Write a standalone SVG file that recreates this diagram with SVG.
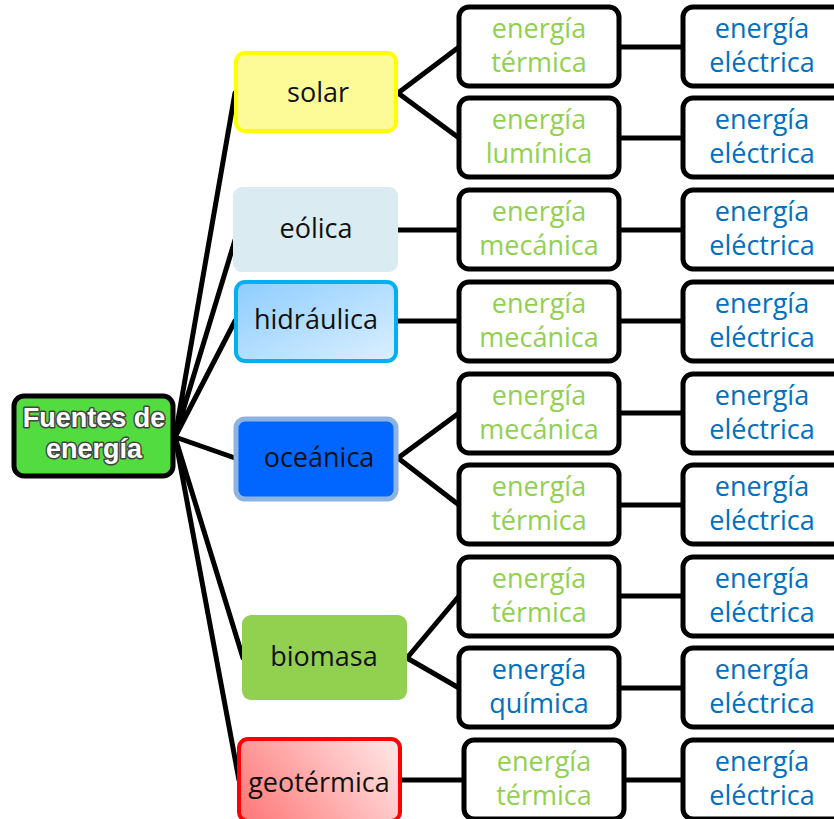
<svg xmlns="http://www.w3.org/2000/svg" width="834" height="819" viewBox="0 0 834 819">
<defs>
<linearGradient id="gHid" x1="0" y1="0" x2="1" y2="1"><stop offset="0" stop-color="#8ccdff"/><stop offset="1" stop-color="#dcefff"/></linearGradient>
<linearGradient id="gGeo" x1="0" y1="0.7" x2="1" y2="0.3"><stop offset="0" stop-color="#ff7f7f"/><stop offset="1" stop-color="#ffe0e0"/></linearGradient>
<style>
.ln{stroke:#000;stroke-width:5;fill:none;stroke-linecap:round}
.box{fill:#fff;stroke:#000;stroke-width:5}
.t{font-family:"Open Sans","Liberation Sans",sans-serif;font-size:27px;text-anchor:middle}
.g{fill:#92d050}
.b{fill:#0070c0}
.k{fill:#111}
.root{font-family:"Liberation Sans",Arial,sans-serif;font-size:27px;font-weight:bold;text-anchor:middle;fill:#fff;stroke:#444;stroke-width:3;paint-order:stroke;stroke-linejoin:round}
</style>
</defs>
<g id="connectors">
<path class="ln" d="M175 437 L235 93 M175 437 L235 240 M175 437 L235 321 M175 437 L235 458 M175 437 L243 658 M175 437 L239 780"/>
<path class="ln" d="M398 93 L459 47 M398 93 L459 138"/>
<path class="ln" d="M398 230 L459 230 M398 321 L459 321"/>
<path class="ln" d="M398 458 L459 413 M398 458 L459 505"/>
<path class="ln" d="M407 658 L459 596 M407 658 L459 688"/>
<path class="ln" d="M401 780 L464 780"/>
<path class="ln" d="M620 47 H683 M620 138 H683 M620 230 H683 M620 321 H683 M620 413 H683 M620 505 H683 M620 596 H683 M620 688 H683 M625 780 H683"/>
</g>
<g id="root">
<rect x="14" y="396" width="159" height="80" rx="10" fill="#52dc40" stroke="#000" stroke-width="5"/>
<text class="root" x="94" y="427">Fuentes de</text>
<text class="root" x="94" y="458">energía</text>
</g>
<g id="solar">
<rect x="236" y="53" width="160" height="78" rx="9" fill="#fdfb97" stroke="#ffff00" stroke-width="4"/>
<text class="t k" x="318" y="102">solar</text>
</g>
<g id="eolica">
<rect x="233" y="187" width="165" height="85" rx="9" fill="#daebf2"/>
<text class="t k" x="316" y="238">eólica</text>
</g>
<g id="hidraulica">
<rect x="236" y="282" width="160" height="79" rx="9" fill="url(#gHid)" stroke="#00b0f0" stroke-width="4"/>
<text class="t k" x="316" y="329">hidráulica</text>
</g>
<g id="oceanica">
<rect x="236" y="419" width="160" height="80" rx="9" fill="#0066ff" stroke="#8db3e2" stroke-width="5"/>
<text class="t k" x="319" y="467">oceánica</text>
</g>
<g id="biomasa">
<rect x="242" y="615" width="165" height="85" rx="9" fill="#92d050"/>
<text class="t k" x="324" y="666">biomasa</text>
</g>
<g id="geotermica">
<rect x="239" y="739" width="161" height="82" rx="9" fill="url(#gGeo)" stroke="#ff0000" stroke-width="4"/>
<text class="t k" x="319" y="792">geotérmica</text>
</g>
<g id="r1a"><rect class="box" x="459" y="7" width="160" height="79" rx="10"/><text class="t g" x="539" y="38">energía</text><text class="t g" x="539" y="72">térmica</text></g>
<g id="r2a"><rect class="box" x="459" y="98" width="160" height="79" rx="10"/><text class="t g" x="539" y="129">energía</text><text class="t g" x="539" y="163">lumínica</text></g>
<g id="r3a"><rect class="box" x="459" y="190" width="160" height="79" rx="10"/><text class="t g" x="539" y="221">energía</text><text class="t g" x="539" y="255">mecánica</text></g>
<g id="r4a"><rect class="box" x="459" y="282" width="160" height="79" rx="10"/><text class="t g" x="539" y="313">energía</text><text class="t g" x="539" y="347">mecánica</text></g>
<g id="r5a"><rect class="box" x="459" y="374" width="160" height="79" rx="10"/><text class="t g" x="539" y="405">energía</text><text class="t g" x="539" y="439">mecánica</text></g>
<g id="r6a"><rect class="box" x="459" y="465" width="160" height="79" rx="10"/><text class="t g" x="539" y="496">energía</text><text class="t g" x="539" y="530">térmica</text></g>
<g id="r7a"><rect class="box" x="459" y="557" width="160" height="79" rx="10"/><text class="t g" x="539" y="588">energía</text><text class="t g" x="539" y="622">térmica</text></g>
<g id="r8a"><rect class="box" x="459" y="648" width="160" height="79" rx="10"/><text class="t b" x="539" y="679">energía</text><text class="t b" x="539" y="713">química</text></g>
<g id="r9a"><rect class="box" x="464" y="740" width="160" height="79" rx="10"/><text class="t g" x="544" y="771">energía</text><text class="t g" x="544" y="805">térmica</text></g>
<g id="r1b"><rect class="box" x="683" y="7" width="162" height="79" rx="10"/><text class="t b" x="762" y="38">energía</text><text class="t b" x="762" y="72">eléctrica</text></g>
<g id="r2b"><rect class="box" x="683" y="98" width="162" height="79" rx="10"/><text class="t b" x="762" y="129">energía</text><text class="t b" x="762" y="163">eléctrica</text></g>
<g id="r3b"><rect class="box" x="683" y="190" width="162" height="79" rx="10"/><text class="t b" x="762" y="221">energía</text><text class="t b" x="762" y="255">eléctrica</text></g>
<g id="r4b"><rect class="box" x="683" y="282" width="162" height="79" rx="10"/><text class="t b" x="762" y="313">energía</text><text class="t b" x="762" y="347">eléctrica</text></g>
<g id="r5b"><rect class="box" x="683" y="374" width="162" height="79" rx="10"/><text class="t b" x="762" y="405">energía</text><text class="t b" x="762" y="439">eléctrica</text></g>
<g id="r6b"><rect class="box" x="683" y="465" width="162" height="79" rx="10"/><text class="t b" x="762" y="496">energía</text><text class="t b" x="762" y="530">eléctrica</text></g>
<g id="r7b"><rect class="box" x="683" y="557" width="162" height="79" rx="10"/><text class="t b" x="762" y="588">energía</text><text class="t b" x="762" y="622">eléctrica</text></g>
<g id="r8b"><rect class="box" x="683" y="648" width="162" height="79" rx="10"/><text class="t b" x="762" y="679">energía</text><text class="t b" x="762" y="713">eléctrica</text></g>
<g id="r9b"><rect class="box" x="683" y="740" width="162" height="79" rx="10"/><text class="t b" x="762" y="771">energía</text><text class="t b" x="762" y="805">eléctrica</text></g>
</svg>
